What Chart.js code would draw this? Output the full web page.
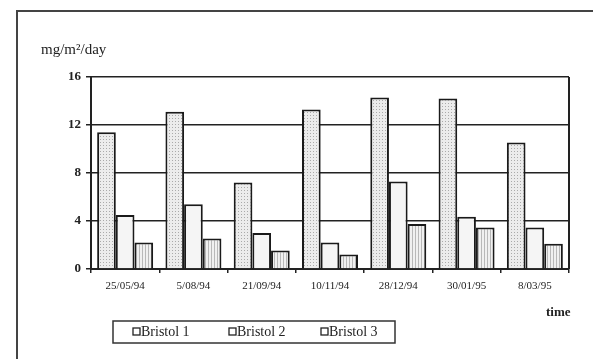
<!DOCTYPE html>
<html>
<head>
<meta charset="utf-8">
<script src="https://cdn.jsdelivr.net/npm/chart.js@4.4.1/dist/chart.umd.min.js"></script>
<style>
html,body{margin:0;padding:0;background:#fff;}
#wrap{position:relative;width:593px;height:359px;}
</style>
</head>
<body>
<div id="wrap"><canvas id="c" width="593" height="359"></canvas></div>
<script>
const categories = ['25/05/94','5/08/94','21/09/94','10/11/94','28/12/94','30/01/95','8/03/95'];
const bristol1 = [11.4, 13.1, 7.2, 13.3, 14.3, 14.2, 10.55];
const bristol2 = [4.5, 5.4, 3.0, 2.2, 7.3, 4.35, 3.45];
const bristol3 = [2.2, 2.55, 1.55, 1.2, 3.75, 3.45, 2.1];
const seriesNames = ['Bristol 1','Bristol 2','Bristol 3'];
const yTicks = [0, 4, 8, 12, 16];
const yUnit = 'mg/m\u00B2/day';
const xTitle = 'time';

function makePattern(type){
  const t = document.createElement('canvas');
  t.width = 3; t.height = 3;
  const g = t.getContext('2d');
  if(type === 'dots'){
    g.fillStyle = '#ececec'; g.fillRect(0,0,3,3);
    g.fillStyle = '#aaaaaa'; g.fillRect(1,1,1,1);
  } else if(type === 'vlines'){
    g.fillStyle = '#f0f0f0'; g.fillRect(0,0,3,3);
    g.fillStyle = '#b8b8b8'; g.fillRect(1,0,1,3);
  }
  return document.getElementById('c').getContext('2d').createPattern(t,'repeat');
}

const FONT = "'Liberation Serif','Times New Roman',serif";

const framePlugin = {
  id: 'frame',
  afterDraw(chart){
    const ctx = chart.ctx, a = chart.chartArea;
    ctx.save();
    // outer frame
    ctx.strokeStyle = '#444'; ctx.lineWidth = 2;
    ctx.beginPath();
    ctx.moveTo(17, 360); ctx.lineTo(17, 11); ctx.lineTo(594, 11);
    ctx.stroke();
    // right border of plot
    ctx.strokeStyle = '#222'; ctx.lineWidth = 2;
    ctx.beginPath();
    ctx.moveTo(a.right, a.top); ctx.lineTo(a.right, a.bottom);
    ctx.stroke();
    // unit label
    ctx.fillStyle = '#222';
    ctx.font = "15px " + FONT;
    ctx.textBaseline = 'middle'; ctx.textAlign = 'left';
    ctx.fillText(yUnit, 41, 50);
    // x title
    ctx.font = "bold 13px " + FONT;
    ctx.fillText(xTitle, 546, 313);
    // legend box
    ctx.strokeStyle = '#333'; ctx.lineWidth = 1.5;
    ctx.strokeRect(113, 321, 282, 22);
    ctx.font = "14px " + FONT;
    const xs = [133, 229, 321];
    chart.data.datasets.forEach((ds, i) => {
      ctx.fillStyle = '#fff';
      ctx.fillRect(xs[i], 328, 7, 7);
      ctx.strokeStyle = '#222'; ctx.lineWidth = 1.3;
      ctx.strokeRect(xs[i], 328, 7, 7);
      ctx.fillStyle = '#222';
      ctx.fillText(ds.label, xs[i] + 8, 332);
    });
    ctx.restore();
  }
};

const ctx = document.getElementById('c').getContext('2d');
new Chart(ctx, {
  type: 'bar',
  data: {
    labels: categories,
    datasets: [
      {label: seriesNames[0], data: bristol1, backgroundColor: makePattern('dots'), borderColor: '#1a1a1a', borderWidth: 2},
      {label: seriesNames[1], data: bristol2, backgroundColor: '#f5f5f5', borderColor: '#1a1a1a', borderWidth: 2},
      {label: seriesNames[2], data: bristol3, backgroundColor: makePattern('vlines'), borderColor: '#1a1a1a', borderWidth: 2}
    ]
  },
  options: {
    responsive: false,
    animation: false,
    events: [],
    categoryPercentage: 0.82,
    barPercentage: 1.0,
    layout: {padding: {left: 0, right: 24, top: 77, bottom: 60}},
    plugins: {legend: {display: false}, tooltip: {enabled: false}},
    scales: {
      x: {
        afterFit(s){ s.height = 30; },
        grid: {display: true, drawOnChartArea: false, color: '#222', lineWidth: 1.5, tickLength: 4, offset: true},
        border: {display: true, color: '#222', width: 2},
        ticks: {color: '#222', font: {family: FONT, size: 11}, padding: 7, maxRotation: 0, autoSkip: false}
      },
      y: {
        min: 0, max: 16,
        afterFit(s){ s.width = 91; },
        afterBuildTicks(s){ s.ticks = yTicks.map(v => ({value: v})); },
        grid: {color: '#222', lineWidth: 1.5, tickLength: 5},
        border: {display: true, color: '#222', width: 2},
        ticks: {color: '#222', font: {family: FONT, size: 13, weight: 'bold'}, padding: 5}
      }
    }
  },
  plugins: [framePlugin]
});
</script>
</body>
</html>
